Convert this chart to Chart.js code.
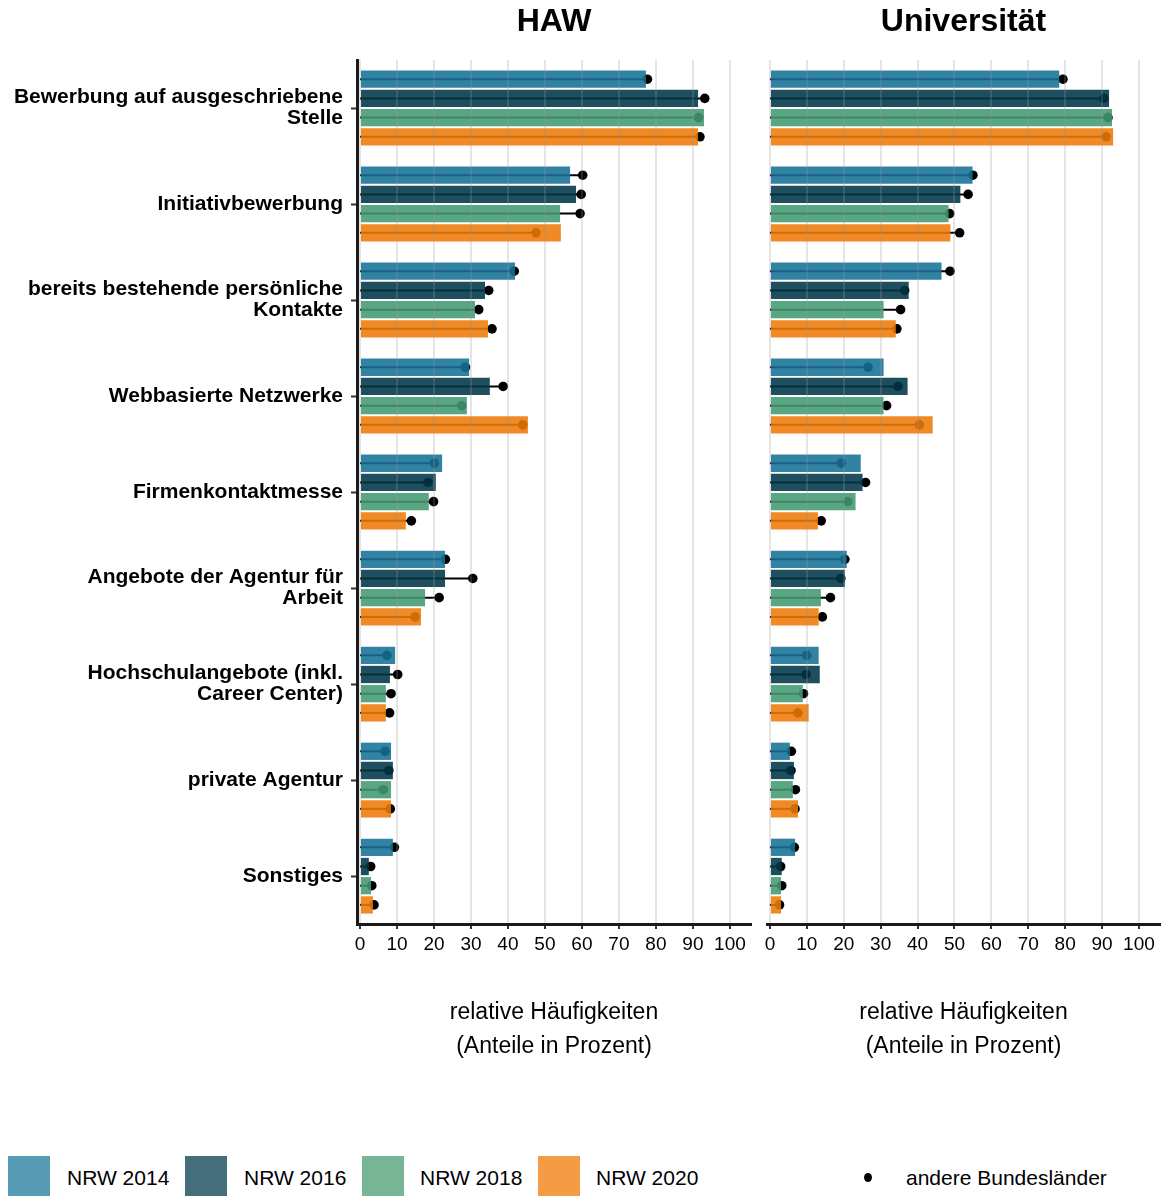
<!DOCTYPE html>
<html>
<head>
<meta charset="utf-8">
<script src="https://cdn.jsdelivr.net/npm/chart.js@4"></script>
<style>
  body { margin: 0; background: #fff; font-family: "Liberation Sans", Arial, sans-serif; }
  #wrap { position: relative; width: 1168px; height: 1196px; overflow: hidden; }
  #hawChart { position: absolute; left: 0; top: 0; }
  #uniChart { position: absolute; left: 760px; top: 0; }
  .key { position: absolute; top: 1156px; width: 42px; height: 44px; }
  .lbl { position: absolute; top: 1166px; font-size: 21px; color: #000; line-height: 24px; }
  .dot { position: absolute; left: 864px; top: 1173px; width: 8px; height: 9px; border-radius: 50%; background: #000; }
</style>
</head>
<body>
<div id="wrap">
  <canvas id="hawChart" width="760" height="1064"></canvas>
  <canvas id="uniChart" width="408" height="1064"></canvas>

  <div class="key" style="left:8px;background:#579bb5"></div><div class="lbl" style="left:67px">NRW 2014</div>
  <div class="key" style="left:185px;background:#436e7a"></div><div class="lbl" style="left:244px">NRW 2016</div>
  <div class="key" style="left:362px;background:#78b597"></div><div class="lbl" style="left:420px">NRW 2018</div>
  <div class="key" style="left:538px;background:#f39c45"></div><div class="lbl" style="left:596px">NRW 2020</div>
  <div class="dot"></div><div class="lbl" style="left:906px">andere Bundesländer</div>
</div>

<script>
const categories = [
  ["Bewerbung auf ausgeschriebene", "Stelle"],
  "Initiativbewerbung",
  ["bereits bestehende persönliche", "Kontakte"],
  "Webbasierte Netzwerke",
  "Firmenkontaktmesse",
  ["Angebote der Agentur für", "Arbeit"],
  ["Hochschulangebote (inkl.", "Career Center)"],
  "private Agentur",
  "Sonstiges"
];
const seriesNames = ["NRW 2014", "NRW 2016", "NRW 2018", "NRW 2020"];
const xTicks = [0, 10, 20, 30, 40, 50, 60, 70, 80, 90, 100];

// NRW shares (bars)
const haw2014 = [77.3, 56.8, 41.9, 29.5, 22.2, 23.0, 9.5, 8.4, 8.9];
const haw2016 = [91.4, 58.4, 33.8, 35.1, 20.5, 23.0, 8.1, 8.9, 2.4];
const haw2018 = [93.0, 54.1, 31.1, 28.9, 18.6, 17.6, 7.0, 8.4, 3.0];
const haw2020 = [91.4, 54.3, 34.6, 45.4, 12.4, 16.5, 7.0, 8.4, 3.5];
const uni2014 = [78.4, 54.9, 46.5, 30.8, 24.6, 20.8, 13.2, 5.4, 6.8];
const uni2016 = [91.9, 51.6, 37.6, 37.3, 25.1, 20.3, 13.5, 6.5, 3.2];
const uni2018 = [92.7, 48.4, 30.8, 30.8, 23.2, 13.8, 8.9, 6.2, 3.0];
const uni2020 = [93.0, 48.9, 34.1, 44.1, 13.0, 13.2, 10.5, 7.6, 3.0];

// other federal states (dots)
const hawOther2014 = [77.7, 60.2, 41.7, 28.5, 20.1, 23.1, 7.3, 6.8, 9.3];
const hawOther2016 = [93.2, 59.8, 34.8, 38.7, 18.4, 30.5, 10.2, 7.8, 2.9];
const hawOther2018 = [91.5, 59.5, 32.1, 27.5, 19.9, 21.4, 8.4, 6.3, 3.2];
const hawOther2020 = [91.9, 47.6, 35.7, 44.0, 13.9, 14.9, 8.0, 8.2, 3.8];
const uniOther2014 = [79.4, 55.0, 48.8, 26.6, 19.4, 20.3, 10.0, 5.8, 6.6];
const uniOther2016 = [90.5, 53.7, 36.5, 34.7, 25.9, 19.2, 9.8, 5.7, 2.9];
const uniOther2018 = [91.6, 48.7, 35.4, 31.6, 21.1, 16.4, 9.1, 6.9, 3.2];
const uniOther2020 = [91.1, 51.4, 34.4, 40.5, 13.9, 14.2, 7.6, 6.8, 2.6];

const barColors = [
  "rgba(22,113,150,0.88)",
  "rgba(0,55,72,0.88)",
  "rgba(68,154,113,0.88)",
  "rgba(238,122,6,0.88)"
];

const FONT = "'Liberation Sans', Arial, sans-serif";

// lollipop segments + dots, drawn under the translucent bars
const otherDots = {
  id: "otherDots",
  beforeDatasetsDraw(chart, args, opts) {
    const ctx = chart.ctx;
    const xScale = chart.scales.x;
    const x0 = xScale.getPixelForValue(0);
    ctx.save();
    ctx.fillStyle = "#000";
    ctx.strokeStyle = "#000";
    ctx.lineWidth = 2;
    opts.values.forEach((vals, i) => {
      chart.getDatasetMeta(i).data.forEach((bar, j) => {
        const px = xScale.getPixelForValue(vals[j]);
        ctx.beginPath();
        ctx.moveTo(x0, bar.y);
        ctx.lineTo(px, bar.y);
        ctx.stroke();
        ctx.beginPath();
        ctx.arc(px, bar.y, 4.8, 0, Math.PI * 2);
        ctx.fill();
      });
    });
    ctx.restore();
  }
};

function makeChart(id, title, bars, dots, showLabels) {
  const ctx = document.getElementById(id).getContext("2d");
  return new Chart(ctx, {
    type: "bar",
    data: {
      labels: categories,
      datasets: bars.map((vals, i) => ({
        label: seriesNames[i],
        data: vals,
        backgroundColor: barColors[i],
        borderWidth: 0,
        barPercentage: 0.9,
        categoryPercentage: 0.8
      }))
    },
    plugins: [otherDots],
    options: {
      indexAxis: "y",
      responsive: false,
      animation: false,
      layout: {
        padding: { left: showLabels ? 0 : 7, right: showLabels ? 9 : 8, top: 0, bottom: 0 }
      },
      scales: {
        x: {
          min: -0.8,
          max: 105.7,
          afterBuildTicks: (scale) => {
            scale.ticks = xTicks.map((v) => ({ value: v }));
          },
          grid: {
            color: "rgba(150,150,150,0.25)",
            lineWidth: 2,
            z: 1,
            tickLength: 5,
            tickColor: "#333",
            tickWidth: 2
          },
          border: { display: true, color: "#1a1a1a", width: 3, z: 2 },
          ticks: {
            color: "#000",
            padding: 4,
            font: { family: FONT, size: 19 },
            maxRotation: 0,
            autoSkip: false
          },
          title: {
            display: true,
            text: ["relative Häufigkeiten", "(Anteile in Prozent)"],
            color: "#000",
            font: { family: FONT, size: 23, lineHeight: 1.48 },
            padding: { top: 36, bottom: 0 }
          }
        },
        y: {
          display: showLabels,
          afterFit: (scale) => {
            if (showLabels) scale.width = 357;
          },
          grid: {
            offset: false,
            drawOnChartArea: false,
            drawTicks: true,
            tickLength: 6,
            tickColor: "#333",
            tickWidth: 2
          },
          border: { display: true, color: "#1a1a1a", width: 3 },
          ticks: {
            color: "#000",
            padding: 8,
            font: { family: FONT, size: 21, weight: "bold", lineHeight: 1.0 }
          }
        }
      },
      plugins: {
        legend: { display: false },
        tooltip: { enabled: false },
        title: {
          display: true,
          text: title,
          fullSize: false,
          color: "#000",
          font: { family: FONT, size: 32, weight: "bold", lineHeight: 1.2 },
          padding: { top: 3, bottom: 18.6 }
        },
        otherDots: { values: dots }
      }
    }
  });
}

makeChart("hawChart", "HAW",
  [haw2014, haw2016, haw2018, haw2020],
  [hawOther2014, hawOther2016, hawOther2018, hawOther2020], true);
makeChart("uniChart", "Universität",
  [uni2014, uni2016, uni2018, uni2020],
  [uniOther2014, uniOther2016, uniOther2018, uniOther2020], false);
</script>
</body>
</html>
